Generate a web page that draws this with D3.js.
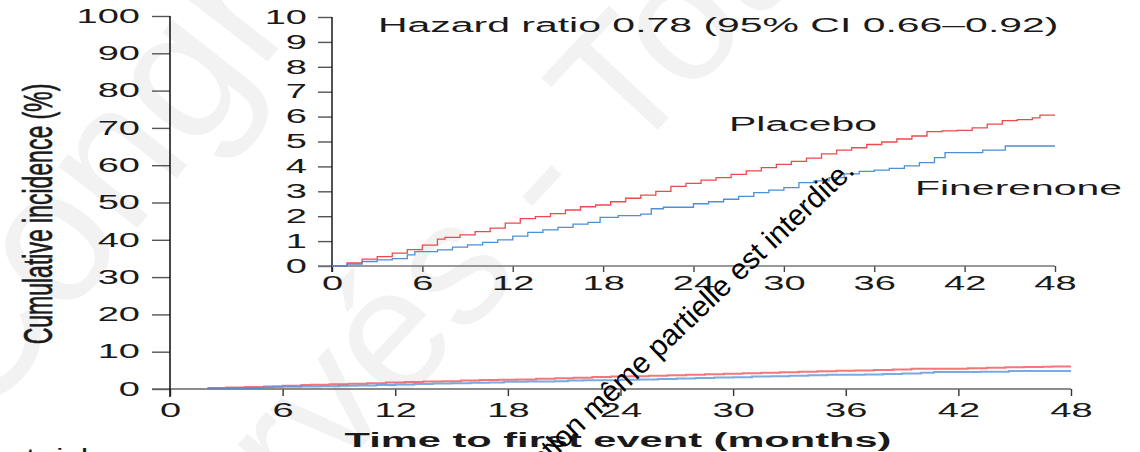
<!DOCTYPE html>
<html>
<head>
<meta charset="utf-8">
<script src="https://cdn.jsdelivr.net/npm/d3@7/dist/d3.min.js"></script>
<style>
  html, body { margin: 0; padding: 0; background: #fff; }
  svg { display: block; }
  text { font-family: "Liberation Sans", Arial, sans-serif; fill: #1a1a1a; }
</style>
</head>
<body>
<svg id="chart" width="1140" height="452"></svg>
<script>
// ---------------- data ----------------
const mainYTicks = [0, 10, 20, 30, 40, 50, 60, 70, 80, 90, 100];
const insetYTicks = [0, 1, 2, 3, 4, 5, 6, 7, 8, 9, 10];
const monthTicks = [0, 6, 12, 18, 24, 30, 36, 42, 48];

const placeboMonths = [0, 1, 2, 3, 4, 5, 6, 7, 7.5, 8.5, 9.5, 10.5, 11.5, 12.5, 13.5, 14.5, 15.5, 16.5, 17.5, 18.5, 19.5, 20.5, 21.5, 22.5, 23.5, 24.5, 25.5, 26.5, 27.5, 28.5, 29.5, 30.5, 31.5, 32.5, 33.5, 34.5, 35.5, 36.5, 37.5, 38.5, 39.5, 40.5, 41.5, 42.5, 43.5, 44.5, 45.5, 46.5, 47, 48];
const placeboPct    = [0, 0.12, 0.28, 0.38, 0.52, 0.66, 0.84, 1.08, 1.15, 1.25, 1.38, 1.52, 1.72, 1.9, 1.98, 2.1, 2.25, 2.38, 2.45, 2.58, 2.72, 2.85, 3.0, 3.2, 3.32, 3.45, 3.55, 3.68, 3.82, 3.95, 4.08, 4.2, 4.33, 4.5, 4.65, 4.75, 4.88, 4.98, 5.1, 5.22, 5.4, 5.43, 5.45, 5.55, 5.7, 5.84, 5.88, 5.95, 6.06, 6.06];

const finerenoneMonths = [0, 1, 2, 3, 4, 5, 5.5, 7, 8, 9, 10, 11, 12, 13, 14, 15, 16, 17, 17.8, 19, 20.5, 21.2, 22, 24, 25, 26, 27, 28, 29, 30, 31, 32, 33, 34, 35, 36, 37, 38, 39, 40, 40.7, 43.2, 44.7, 48];
const finerenonePct    = [0, 0.08, 0.18, 0.25, 0.3, 0.45, 0.58, 0.65, 0.76, 0.85, 0.95, 1.05, 1.2, 1.35, 1.45, 1.55, 1.68, 1.75, 1.95, 2.02, 2.08, 2.3, 2.36, 2.5, 2.58, 2.68, 2.8, 2.95, 3.05, 3.15, 3.35, 3.42, 3.55, 3.7, 3.8, 3.85, 3.92, 4.02, 4.15, 4.35, 4.55, 4.65, 4.82, 4.82];

const yTitle = "Cumulative incidence (%)";
const xTitle = "Time to first event (months)";
const hrText = "Hazard ratio 0.78 (95% CI 0.66\u20130.92)";
const seriesNames = ["Placebo", "Finerenone"];
const atRiskText = "at risk";
const watermark1 = "Congrès";
const watermark2 = "servés - Tous";
const notice = "Reproduction même partielle est interdite.";

// ---------------- setup ----------------
const svg = d3.select("#chart");
const RED = "#ee4a4e", BLUE = "#4a8fd8";
const SX = 1.95;      // horizontal stretch of tick labels
const SX2 = 2.1;      // horizontal stretch of annotation text
const FS = 19.5;

// watermark (very faint)
svg.append("text").attr("transform", "translate(-20,430) rotate(-52)")
  .style("font-size", "190px").style("fill", "#f2f2f2").text(watermark1);
svg.append("text").attr("transform", "translate(525,272) rotate(-47)")
  .attr("text-anchor", "middle")
  .style("font-size", "175px").style("fill", "#f2f2f2").text(watermark2);

// scales
const xMain = d3.scaleLinear().domain([0, 48]).range([170, 1071]);
const yMain = d3.scaleLinear().domain([0, 100]).range([389, 16]);
const xIn = d3.scaleLinear().domain([0, 48]).range([332, 1055]);
const yIn = d3.scaleLinear().domain([0, 10]).range([266, 17]);

function styleAxis(g, tickColor) {
  g.select(".domain").remove();
  g.selectAll(".tick line").attr("stroke", tickColor).attr("stroke-width", 1.4);
  g.selectAll(".tick text").style("font-size", FS + "px").attr("fill", "#1a1a1a")
    .style("font-family", '"Liberation Sans", Arial, sans-serif');
}

// ---- main axes ----
const gMY = svg.append("g").attr("transform", "translate(170,0)")
  .call(d3.axisLeft(yMain).tickValues(mainYTicks).tickSize(18).tickSizeOuter(0));
styleAxis(gMY, "#555");
gMY.selectAll(".tick text").attr("x", -30 / SX).attr("transform", `scale(${SX},1)`);

const gMX = svg.append("g").attr("transform", "translate(0,389)")
  .call(d3.axisBottom(xMain).tickValues(monthTicks).tickSize(7).tickPadding(7).tickSizeOuter(0));
styleAxis(gMX, "#333");
gMX.selectAll(".tick text").attr("transform", `scale(${SX},1)`);

svg.append("line").attr("x1", 152).attr("x2", xMain(48)).attr("y1", 389).attr("y2", 389)
  .attr("stroke", "#666").attr("stroke-width", 1.5);
svg.append("line").attr("x1", 170).attr("x2", 170).attr("y1", yMain(100)).attr("y2", 397)
  .attr("stroke", "#1a1a1a").attr("stroke-width", 1.6);

// ---- inset axes ----
const gIY = svg.append("g").attr("transform", "translate(332,0)")
  .call(d3.axisLeft(yIn).tickValues(insetYTicks).tickSize(14).tickSizeOuter(0));
styleAxis(gIY, "#555");
gIY.selectAll(".tick text").attr("x", -25 / SX).attr("transform", `scale(${SX},1)`);

const gIX = svg.append("g").attr("transform", "translate(0,266)")
  .call(d3.axisBottom(xIn).tickValues(monthTicks).tickSize(6).tickPadding(4).tickSizeOuter(0));
styleAxis(gIX, "#444");
gIX.selectAll(".tick text").attr("transform", `scale(${SX},1)`);

svg.append("line").attr("x1", 318).attr("x2", xIn(48)).attr("y1", 266).attr("y2", 266)
  .attr("stroke", "#777").attr("stroke-width", 1.4);
svg.append("line").attr("x1", 332).attr("x2", 332).attr("y1", yIn(10)).attr("y2", 272)
  .attr("stroke", "#1a1a1a").attr("stroke-width", 1.5);

// ---- curves ----
const series = [
  { name: seriesNames[0], months: placeboMonths, pct: placeboPct, color: RED },
  { name: seriesNames[1], months: finerenoneMonths, pct: finerenonePct, color: BLUE }
];
function lineFor(xs, ys) {
  return d3.line().curve(d3.curveStepAfter).x(d => xs(d[0])).y(d => ys(d[1]));
}
series.forEach(s => {
  const pts = s.months.map((m, i) => [m, s.pct[i]]);
  // main plot (pale, thicker)
  svg.append("path").datum(pts.filter(p => p[0] >= 1.6))
    .attr("d", lineFor(xMain, yMain)).attr("fill", "none")
    .attr("stroke", s.color).attr("stroke-opacity", 0.75).attr("stroke-width", 2);
  // inset
  svg.append("path").datum(pts)
    .attr("d", lineFor(xIn, yIn)).attr("fill", "none")
    .attr("stroke", s.color).attr("stroke-width", 1.3);
});

// ---- text helpers ----
function stretched(x, y, str, opts) {
  const g = svg.append("g").attr("transform", `translate(${x},${y}) scale(${opts.sx},1)`);
  const t = g.append("text").attr("text-anchor", opts.anchor || "start")
    .style("font-size", opts.size + "px").text(str);
  if (opts.weight) t.style("font-weight", opts.weight);
  return t;
}

stretched(378, 32, hrText, { sx: SX2, size: FS });
stretched(729, 131, seriesNames[0], { sx: SX2, size: FS });
stretched(915, 195, seriesNames[1], { sx: SX2, size: FS });
stretched(618, 447, xTitle, { sx: 2.08, size: 20, anchor: "middle", weight: "bold" });
stretched(7, 463, atRiskText, { sx: 1.7, size: 20 });

// y title (rotated, condensed look)
svg.append("g").attr("transform", "translate(52,214) scale(1.8,1) rotate(-90)")
  .append("text").attr("text-anchor", "middle").style("font-size", "23px")
  .style("stroke", "#1a1a1a").style("stroke-width", 0.4).text(yTitle);

// diagonal notice
svg.append("text").attr("transform", "translate(856,172) rotate(-43.5)")
  .attr("text-anchor", "end").style("font-size", "29.5px").style("fill", "#000").text(notice);
</script>
</body>
</html>
